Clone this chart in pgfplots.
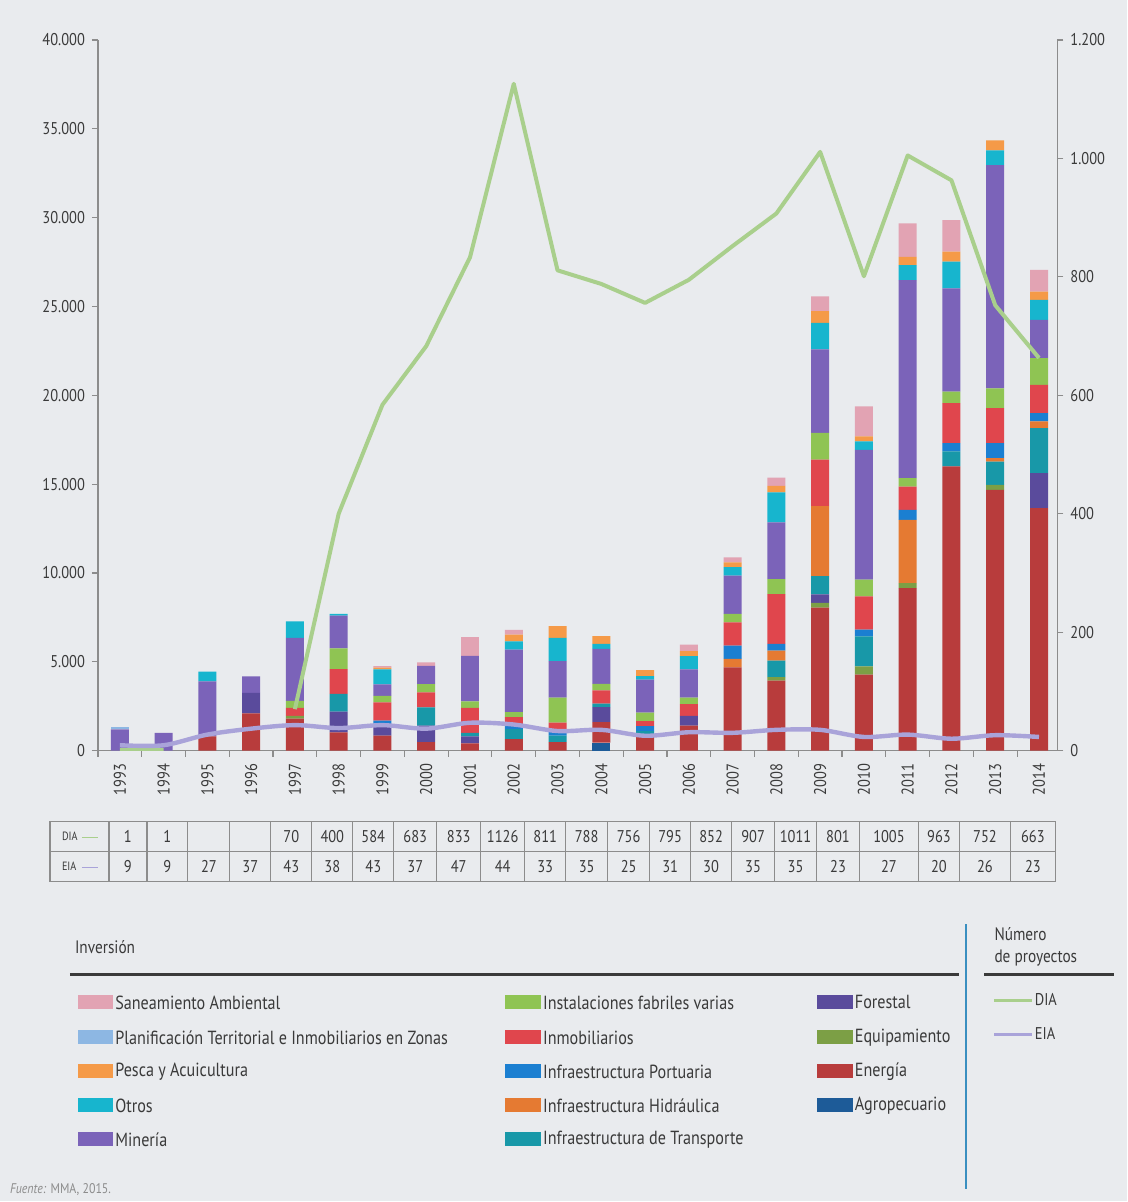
\documentclass[border=0pt]{standalone}
\usepackage{fontspec}
\setmainfont{PT Sans}[FakeStretch=0.85]
\usepackage{pgfplots}
\pgfplotsset{compat=1.18}
\usepackage{pgfplotstable}

\definecolor{bg}{HTML}{E9EBEE}
\definecolor{cSane}{HTML}{E2A3B3}
\definecolor{cPlan}{HTML}{8DB7E3}
\definecolor{cPesc}{HTML}{F59A48}
\definecolor{cOtro}{HTML}{17B5CE}
\definecolor{cMine}{HTML}{7B63B9}
\definecolor{cInst}{HTML}{8FC453}
\definecolor{cInmo}{HTML}{E0464D}
\definecolor{cPort}{HTML}{1B7FD1}
\definecolor{cHidr}{HTML}{E57A32}
\definecolor{cTran}{HTML}{1898A8}
\definecolor{cFore}{HTML}{5A4B9C}
\definecolor{cEqui}{HTML}{7C9F45}
\definecolor{cEner}{HTML}{B83C3C}
\definecolor{cAgro}{HTML}{1D5B98}
\definecolor{cDIA}{HTML}{A9CF8C}
\definecolor{cEIA}{HTML}{A9A3D9}
\definecolor{axg}{HTML}{8C8C8C}
\definecolor{txt}{HTML}{3A3A3A}
\definecolor{vline}{HTML}{3A8FC0}

% inversion (MMUS$) por sector, 1993 = 0 ... 2014 = 21
\pgfplotstableread{
yr Agro Ener Equi Fore Tran Hidr Port Inmo Inst Mine Otro Pesc Plan Sane
0  0   0     0   0    0    0    0   0    0    1200  0    0   100 0
1  0   0     0   0    0    0    0   0    0    1000  0    0   0   0
2  0   800   0   0    0    0    0   0    0    3100  550  0   0   0
3  0   2100  0   1150 0    0    0   0    0    930   0    0   0   0
4  0   1800  150 0    0    0    0   450  400  3550  920  0   0   0
5  0   1030  0   1160 1000 0    0   1400 1160 1840  100  0   0   0
6  0   840   0   560  0    0    280 1030 370  650   840  100 0   90
7  0   470   0   930  1030 0    0   840  470  1030  0    0   0   190
8  0   400   0   400  200  0    0   1400 370  2560  0    0   0   1050
9  0   650   0   0    560  0    200 470  280  3520  470  370 0   280
10 0   470   0   0    370  0    370 370  1400 2060  1310 650 0   0
11 450 1150  0   840  200  0    0   750  370  1970  280  430 0   0
12 0   900   0   0    200  0    280 280  470  1870  190  340 0   0
13 0   1400  0   560  0    0    0   650  370  1590  750  280 0   370
14 0   4690  0   0    0    470  750 1310 470  2160  470  280 0   280
15 0   3940  190 0    940  560  370 2810 840  3190  1690 370 0   470
16 0   8040  280 470  1030 3940 0   2620 1500 4700  1500 650 0   840
17 0   4270  470 0    1690 0    380 1870 940  7310  470  280 0   1690
18 0   9150  280 0    0    3560 560 1310 470  11150 840  470 0   1880
19 0   16000 0   0    840  0    470 2250 650  5810  1500 560 0   1780
20 0   14680 280 0    1310 190  840 1970 1120 12560 840  560 0   0
21 0   13650 0   1970 2530 380  470 1590 1500 2160  1120 470 0   1220
}\inv

% numero de proyectos
\pgfplotstableread{
yr DIA EIA
0  1    9
1  1    9
2  nan  27
3  nan  37
4  70   43
5  400  38
6  584  43
7  683  37
8  833  47
9  1126 44
10 811  33
11 788  35
12 756  25
13 795  31
14 852  30
15 907  35
16 1011 35
17 801  23
18 1005 27
19 963  20
20 752  26
21 663  23
}\proy

\pgfkeys{/pgf/number format/assume math mode=true}

\begin{document}
\begin{tikzpicture}[font=\fontsize{9.5}{11}\selectfont, text=txt]
\begin{scope}[x=0.5pt,y=-0.5pt]
\fill[bg] (0,0) rectangle (1128,1202);
\useasboundingbox (0,0) rectangle (1128,1202);
\end{scope}

\pgfplotsset{base/.style={
  at={(49pt,-375.5pt)}, anchor=south west,
  scale only axis, width=480pt, height=355.5pt,
  xmin=-0.5, xmax=21.42, ymin=0,
  axis line style={axg, line width=0.7pt},
  tick style={axg, line width=0.6pt},
  tick align=outside, major tick length=3pt,
  tick label style={font=\fontsize{8.5}{10}\selectfont, text=txt},
  scaled y ticks=false,
  /pgf/number format/1000 sep={.},
}}

\begin{axis}[base,
  ymax=40000,
  ybar stacked, bar width=9pt,
  axis x line*=bottom, axis y line*=left,
  ytick={0,5000,...,40000},
  xtick={0,...,21},
  xticklabels={1993,1994,1995,1996,1997,1998,1999,2000,2001,2002,2003,2004,2005,2006,2007,2008,2009,2010,2011,2012,2013,2014},
  major x tick style={draw=none},
  minor xtick={-0.5,0.5,...,21.5},
  minor tick length=3pt,
  xticklabel style={rotate=90, anchor=east, /pgf/number format/1000 sep={}},
  every axis plot/.append style={draw=none},
]
\addplot[fill=cAgro] table[x=yr,y=Agro] {\inv};
\addplot[fill=cEner] table[x=yr,y=Ener] {\inv};
\addplot[fill=cEqui] table[x=yr,y=Equi] {\inv};
\addplot[fill=cFore] table[x=yr,y=Fore] {\inv};
\addplot[fill=cTran] table[x=yr,y=Tran] {\inv};
\addplot[fill=cHidr] table[x=yr,y=Hidr] {\inv};
\addplot[fill=cPort] table[x=yr,y=Port] {\inv};
\addplot[fill=cInmo] table[x=yr,y=Inmo] {\inv};
\addplot[fill=cInst] table[x=yr,y=Inst] {\inv};
\addplot[fill=cMine] table[x=yr,y=Mine] {\inv};
\addplot[fill=cOtro] table[x=yr,y=Otro] {\inv};
\addplot[fill=cPesc] table[x=yr,y=Pesc] {\inv};
\addplot[fill=cPlan] table[x=yr,y=Plan] {\inv};
\addplot[fill=cSane] table[x=yr,y=Sane] {\inv};
\end{axis}

\begin{axis}[base,
  ymax=1200,
  axis x line=none, axis y line*=right,
  ytick={0,200,...,1200},
  unbounded coords=jump,
]
\addplot[cDIA, line width=2pt, line join=round] table[x=yr,y=DIA] {\proy};
\addplot[cEIA, line width=2.2pt, smooth] table[x=yr,y=EIA] {\proy};
\end{axis}

\begin{scope}[x=0.5pt,y=-0.5pt]
% tabla
\draw[axg, line width=0.6pt] (50,822) rectangle (1056,882);
\draw[axg, line width=0.6pt] (50,852) -- (1056,852);
\foreach \b in {109,147,188,230,271,312,353,394,437,481,525,566,608,650,691,732,775,817,860,919,960,1011}
  \draw[axg, line width=0.6pt] (\b,822) -- (\b,882);
\node[anchor=west, font=\fontsize{6}{7}\selectfont] at (55,837) {DIA};
\draw[cDIA, line width=0.8pt] (82,838) -- (98,838);
\node[anchor=west, font=\fontsize{6}{7}\selectfont] at (55,867) {EIA};
\draw[cEIA, line width=0.8pt] (82,868) -- (98,868);
\foreach \c/\d/\e in {128/1/9, 167.5/1/9, 209//27, 250.5//37, 291.5/70/43, 332.5/400/38,
  373.5/584/43, 415.5/683/37, 459/833/47, 503/1126/44, 545.5/811/33, 587/788/35,
  629/756/25, 670.5/795/31, 711.5/852/30, 753.5/907/35, 796/1011/35, 838.5/801/23,
  889.5/1005/27, 939.5/963/20, 985.5/752/26, 1033.5/663/23}{
  \node[font=\fontsize{8.5}{10}\selectfont] at (\c,837) {\d};
  \node[font=\fontsize{8.5}{10}\selectfont] at (\c,867) {\e};
}

% leyenda
\node[anchor=west, font=\fontsize{9}{10}\selectfont] at (68,948) {Inversión};
\draw[txt, line width=1.2pt] (70,975) -- (960,975);
\draw[vline, line width=1pt] (967,925) -- (967,1190);
\node[anchor=west, align=left, font=\fontsize{9}{11}\selectfont] at (988,947) {Número\\de proyectos};
\draw[txt, line width=1.2pt] (985,975) -- (1115,975);

\foreach \yy/\col/\lab in {1003/cSane/Saneamiento Ambiental,
  1038/cPlan/Planificación Territorial e Inmobiliarios en Zonas,
  1072/cPesc/Pesca y Acuicultura,
  1106/cOtro/Otros,
  1140/cMine/Minería}{
  \fill[\col] (78,\yy-7) rectangle (113,\yy+7);
  \node[anchor=west, inner sep=1pt] at (113,\yy) {\lab};
}
\foreach \yy/\col/\lab in {1003/cInst/Instalaciones fabriles varias,
  1038/cInmo/Inmobiliarios,
  1072/cPort/Infraestructura Portuaria,
  1106/cHidr/Infraestructura Hidráulica,
  1140/cTran/Infraestructura de Transporte}{
  \fill[\col] (505,\yy-7) rectangle (541,\yy+7);
  \node[anchor=west, inner sep=1pt] at (541,\yy) {\lab};
}
\foreach \yy/\col/\lab in {1003/cFore/Forestal,
  1038/cEqui/Equipamiento,
  1072/cEner/Energía,
  1106/cAgro/Agropecuario}{
  \fill[\col] (817,\yy-7) rectangle (853,\yy+7);
  \node[anchor=west, inner sep=1pt] at (853,\yy) {\lab};
}
\draw[cDIA, line width=1.2pt] (995,1001) -- (1033,1001);
\node[anchor=west, inner sep=1pt, font=\fontsize{8.5}{10}\selectfont] at (1033,1000) {DIA};
\draw[cEIA, line width=1.2pt] (995,1035) -- (1033,1035);
\node[anchor=west, inner sep=1pt, font=\fontsize{8.5}{10}\selectfont] at (1033,1034) {EIA};

\node[anchor=west, font=\fontsize{7}{8}\selectfont, text=axg] at (3,1190) {\textit{Fuente:} MMA, 2015.};
\end{scope}
\end{tikzpicture}
\end{document}
